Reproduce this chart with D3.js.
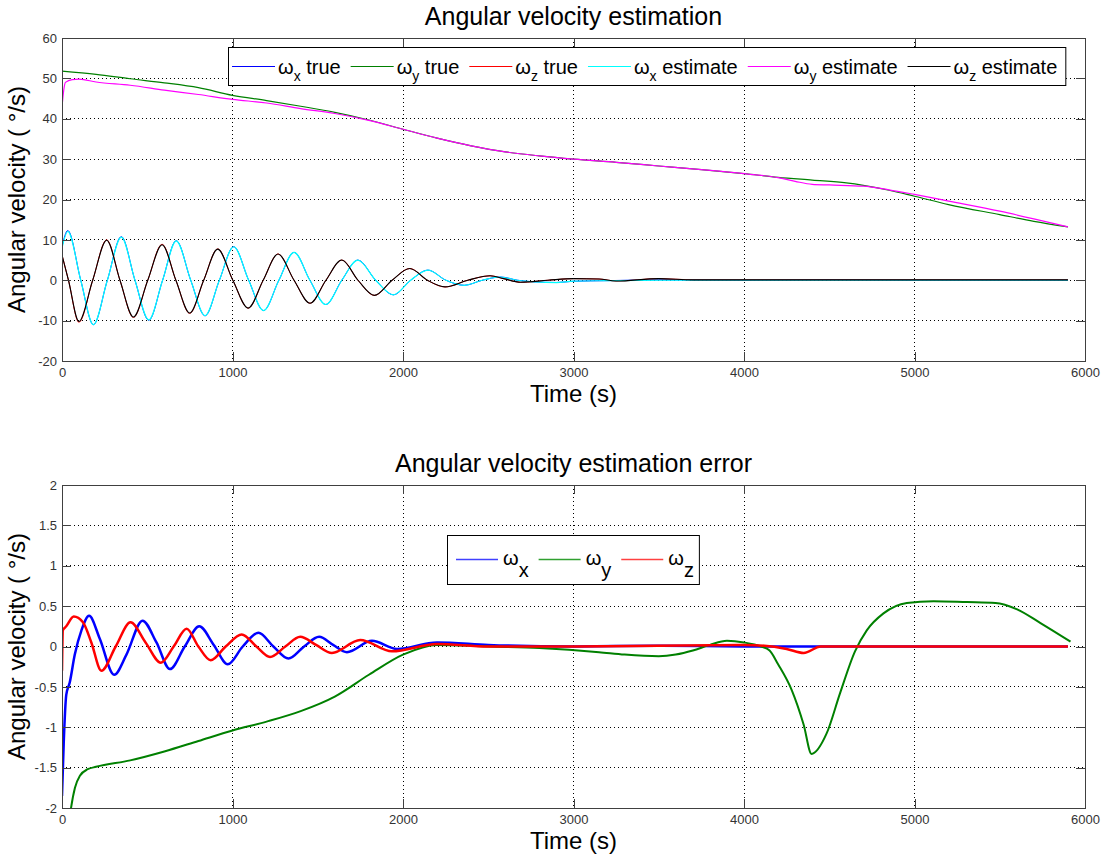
<!DOCTYPE html>
<html><head><meta charset="utf-8">
<script src="https://cdn.jsdelivr.net/npm/d3@7"></script>
<style>
body{margin:0;background:#fff;}
text{font-family:"Liberation Sans",Arial,Helvetica,sans-serif;}
</style>
</head><body>
<svg id="c" width="1107" height="857"></svg>
<script>
// ---------------- DATA ----------------
const xTicks = [0, 1000, 2000, 3000, 4000, 5000, 6000];
const yTicksTop = [-20, -10, 0, 10, 20, 30, 40, 50, 60];
const yTicksBot = [-2, -1.5, -1, -0.5, 0, 0.5, 1, 1.5, 2];

// top panel: angular velocity (deg/s) vs time (s), [t, value]
const wxTrue = [[0,8.3],[34,12.3],[110,0],[184,-11],[266,0],[348,10.8],[428,0],[509,-9.9],[590,0],[670,9.8],[755,0],[839,-8.8],[923,0],[1007,8.3],[1095,0],[1182,-7.5],[1272,0],[1361,6.9],[1454,0],[1547,-6],[1641,0],[1735,5],[1840,0],[1944,-3.6],[2045,0],[2146,2.5],[2252,0],[2359,-1.25],[2465,0],[2572,0.8],[2672,0],[2773,-0.4],[2900,-0.55],[3000,-0.25],[3200,-0.1],[3500,0.1],[4000,0],[4500,0.1],[5000,0],[5900,0]];
const wyTrue = [[0,51.8],[200,51],[400,49.9],[600,48.9],[800,47.7],[1000,45.8],[1200,44.5],[1400,43.1],[1600,41.6],[1800,39.7],[2000,37.4],[2200,35.2],[2400,33.3],[2600,31.8],[2800,30.8],[3000,30],[3250,29.2],[3500,28.3],[3750,27.4],[4000,26.4],[4200,25.5],[4400,24.8],[4600,24.1],[4700,23.5],[4850,22.3],[5000,20.8],[5200,18.75],[5500,16.25],[5700,14.6],[5900,13.2]];
const wzTrue = [[0,6.25],[38,0],[99,-10.4],[180,0],[262,10],[340,0],[419,-9.2],[503,0],[587,8.9],[668,0],[749,-8.2],[831,0],[913,7.75],[1002,0],[1092,-6.9],[1180,0],[1267,6.5],[1361,0],[1455,-5.7],[1548,0],[1641,5],[1736,0],[1832,-3.75],[1936,0],[2040,2.9],[2143,0],[2247,-1.65],[2380,0],[2511,1.1],[2590,0.4],[2690,-0.5],[2850,0],[3000,0.4],[3150,0.3],[3250,-0.2],[3500,0.4],[3700,0.1],[4000,0.1],[5900,0.1]];
const wxEst = [[0,8],[34,12.1],[110,0],[184,-11],[266,0],[348,10.7],[428,0],[509,-9.8],[590,0],[670,9.75],[755,0],[839,-8.75],[923,0],[1007,8.3],[1095,0],[1182,-7.5],[1272,0],[1361,6.9],[1454,0],[1547,-6],[1641,0],[1735,5],[1840,0],[1944,-3.6],[2045,0],[2146,2.5],[2252,0],[2359,-1.25],[2465,0],[2572,0.8],[2672,0],[2773,-0.4],[2900,-0.6],[3000,-0.2],[3200,-0.1],[3500,0],[4000,0],[5900,0]];
const wyEst = [[0,42.8],[10,47],[20,49],[60,49.7],[100,49.8],[200,49.1],[400,48.3],[600,47.1],[800,46],[1000,44.8],[1200,43.9],[1400,42.5],[1600,41.3],[1800,39.6],[2000,37.4],[2200,35.2],[2400,33.3],[2600,31.8],[2800,30.8],[3000,30],[3250,29.2],[3500,28.3],[3750,27.4],[4000,26.4],[4200,25.4],[4300,24.5],[4400,23.75],[4500,23.6],[4700,23.3],[4850,22.4],[5000,21.25],[5200,19.6],[5500,17.1],[5700,15.2],[5900,13.2]];
const wzEst = [[0,6.25],[38,0],[99,-10.2],[180,0],[262,9.9],[340,0],[419,-9.1],[503,0],[587,8.8],[668,0],[749,-8.1],[831,0],[913,7.7],[1002,0],[1092,-6.9],[1180,0],[1267,6.5],[1361,0],[1455,-5.7],[1548,0],[1641,5],[1736,0],[1832,-3.75],[1936,0],[2040,2.9],[2143,0],[2247,-1.65],[2380,0],[2511,1.1],[2590,0.4],[2690,-0.5],[2850,0],[3000,0.4],[3150,0.3],[3250,-0.2],[3500,0.4],[3700,0.1],[4000,0.1],[5900,0.1]];

// bottom panel: estimation error (deg/s)
const exErr = [[0,-1.85],[10,-1.2],[25,-0.6],[45,-0.45],[75,-0.1],[114,0.2],[159,0.38],[221,0.1],[306,-0.35],[378,-0.1],[472,0.32],[554,0.05],[633,-0.28],[720,0],[805,0.25],[890,0.02],[972,-0.22],[1060,0],[1152,0.17],[1240,0],[1328,-0.15],[1420,0],[1508,0.12],[1590,0.02],[1671,-0.07],[1818,0.07],[1965,-0.03],[2200,0.05],[2500,0.02],[3000,0],[3500,0.01],[4000,0],[4500,0],[5000,0],[5500,0],[5900,0]];
const eyErr = [[40,-2.2],[53,-2],[76,-1.75],[105,-1.6],[151,-1.52],[200,-1.49],[400,-1.41],[600,-1.3],[800,-1.17],[1000,-1.04],[1200,-0.93],[1400,-0.8],[1600,-0.62],[1800,-0.35],[2000,-0.1],[2200,0.02],[2500,0],[2800,-0.02],[3150,-0.07],[3300,-0.1],[3500,-0.12],[3600,-0.1],[3700,-0.05],[3800,0.02],[3900,0.07],[4000,0.05],[4100,0],[4150,-0.05],[4200,-0.22],[4280,-0.54],[4350,-0.97],[4396,-1.33],[4484,-1.08],[4563,-0.58],[4651,-0.06],[4720,0.2],[4818,0.41],[4955,0.54],[5112,0.56],[5308,0.55],[5475,0.54],[5602,0.46],[5739,0.29],[5915,0.06]];
const ezErr = [[0,-0.3],[5,0.2],[25,0.25],[69,0.37],[123,0.3],[172,0.05],[231,-0.3],[315,0],[402,0.3],[490,0.05],[580,-0.2],[655,0],[731,0.22],[800,0],[872,-0.17],[960,0],[1054,0.15],[1140,0],[1220,-0.13],[1310,0],[1397,0.12],[1490,0.02],[1583,-0.08],[1749,0.08],[1935,-0.06],[2200,0.03],[2500,0],[3000,0],[3500,0.01],[4000,0.02],[4250,-0.03],[4350,-0.08],[4450,0],[5000,0],[5900,0]];

const topLegend = [["x"," true"],["y"," true"],["z"," true"],["x"," estimate"],["y"," estimate"],["z"," estimate"]];
const botLegend = [["x",""],["y",""],["z",""]];

// ---------------- DRAW ----------------
const svg = d3.select("#c");
const fmt = d => String(d);

function panel(p) {
  const x = d3.scaleLinear().domain([0, 6000]).range([p.l, p.r]);
  const y = d3.scaleLinear().domain(p.yd).range([p.b, p.t]);
  const g = svg.append("g");
  g.append("rect").attr("x", p.l).attr("y", p.t).attr("width", p.r - p.l).attr("height", p.b - p.t).attr("fill", "#fff");

  // grid
  g.append("g").selectAll("line").data(xTicks.slice(1, -1)).join("line")
    .attr("x1", d => x(d)).attr("x2", d => x(d)).attr("y1", p.t).attr("y2", p.b)
    .attr("stroke", "#000").attr("stroke-width", 1).attr("stroke-dasharray", "1,3").attr("shape-rendering", "crispEdges");
  g.append("g").selectAll("line").data(p.yt.slice(1, -1)).join("line")
    .attr("y1", d => y(d)).attr("y2", d => y(d)).attr("x1", p.l).attr("x2", p.r)
    .attr("stroke", "#000").attr("stroke-width", 1).attr("stroke-dasharray", "1,3").attr("shape-rendering", "crispEdges");

  // clip
  const cid = "clip" + p.id;
  svg.append("defs").append("clipPath").attr("id", cid).append("rect")
    .attr("x", p.l).attr("y", p.t).attr("width", p.r - p.l).attr("height", p.b - p.t);
  const line = d3.line().x(d => x(d[0])).y(d => y(d[1])).curve(d3.curveMonotoneX);
  const lg = g.append("g").attr("clip-path", `url(#${cid})`);
  p.series.forEach(s => {
    lg.append("path").datum(s.data).attr("d", line).attr("fill", "none")
      .attr("stroke", s.color).attr("stroke-width", s.w).attr("stroke-linejoin", "round");
  });

  // axes
  const ax = g.append("g");
  ax.append("g").attr("transform", `translate(0,${p.b})`)
    .call(d3.axisBottom(x).tickValues(xTicks).tickSize(-9).tickPadding(7).tickFormat(fmt));
  ax.append("g").attr("transform", `translate(0,${p.t})`)
    .call(d3.axisTop(x).tickValues(xTicks).tickSize(-9).tickFormat(""));
  ax.append("g").attr("transform", `translate(${p.l},0)`)
    .call(d3.axisLeft(y).tickValues(p.yt).tickSize(-9).tickPadding(5).tickFormat(fmt));
  ax.append("g").attr("transform", `translate(${p.r},0)`)
    .call(d3.axisRight(y).tickValues(p.yt).tickSize(-9).tickFormat(""));
  ax.selectAll(".domain").remove();
  ax.selectAll(".tick line").attr("stroke", "#404040").attr("shape-rendering", "crispEdges");
  ax.selectAll(".tick text").attr("font-size", 13).attr("fill", "#333")
    .attr("font-family", '"Liberation Sans",Arial,sans-serif');
  g.append("rect").attr("x", p.l).attr("y", p.t).attr("width", p.r - p.l).attr("height", p.b - p.t)
    .attr("fill", "none").attr("stroke", "#404040").attr("stroke-width", 1).attr("shape-rendering", "crispEdges");

  // titles & labels
  g.append("text").attr("x", (p.l + p.r) / 2).attr("y", p.t - 13).attr("text-anchor", "middle")
    .attr("font-size", 25).text(p.title);
  g.append("text").attr("x", (p.l + p.r) / 2).attr("y", p.b + 41).attr("text-anchor", "middle")
    .attr("font-size", 24).text("Time (s)");
  g.append("text").attr("transform", `translate(25,${(p.t + p.b) / 2}) rotate(-90)`).attr("text-anchor", "middle")
    .attr("font-size", 24).text("Angular velocity ( °/s)");

  // legend
  const L = p.legend;
  const lgd = g.append("g");
  const box = lgd.append("rect").attr("x", L.x + 0.5).attr("y", L.y + 0.5).attr("height", L.h)
    .attr("fill", "#fff").attr("stroke", "#000").attr("stroke-width", 1);
  let cx = L.x + L.padL;
  const ly = Math.floor(L.y + L.h / 2) + 0.5;
  L.items.forEach((it, i) => {
    lgd.append("line").attr("x1", cx).attr("x2", cx + L.lineLen).attr("y1", ly).attr("y2", ly)
      .attr("stroke", L.colors[i]).attr("stroke-width", L.lw);
    cx += L.lineLen + L.gap1;
    const t = lgd.append("text").attr("x", cx).attr("y", ly + L.base).attr("font-size", L.fs);
    t.append("tspan").text("ω");
    t.append("tspan").attr("dy", L.subDy).attr("font-size", L.subFs).text(it[0]);
    if (it[1]) t.append("tspan").attr("dy", -L.subDy).text(it[1]);
    cx += t.node().getComputedTextLength() + L.gap2;
  });
  box.attr("width", cx - L.gap2 + L.padR - L.x);
}

panel({
  id: "top", l: 62, r: 1085, t: 38, b: 361, yd: [-20, 60], yt: yTicksTop,
  title: "Angular velocity estimation",
  series: [
    {data: wxTrue, color: "#0000ff", w: 1},
    {data: wyTrue, color: "#008000", w: 1.2},
    {data: wzTrue, color: "#ff0000", w: 1},
    {data: wxEst, color: "#00ffff", w: 1.2},
    {data: wyEst, color: "#ff00ff", w: 1.2},
    {data: wzEst, color: "#000000", w: 1.1}
  ],
  legend: {x: 228, y: 47, h: 38, padL: 4, padR: 8, lineLen: 43, gap1: 3, gap2: 10, fs: 20, subFs: 14, subDy: 7, base: 7, lw: 1,
    items: topLegend, colors: ["#0000ff", "#008000", "#ff0000", "#00ffff", "#ff00ff", "#000000"]}
});

panel({
  id: "bot", l: 62, r: 1085, t: 485, b: 808, yd: [-2, 2], yt: yTicksBot,
  title: "Angular velocity estimation error",
  series: [
    {data: exErr, color: "#0000ff", w: 2.5},
    {data: eyErr, color: "#008000", w: 2},
    {data: ezErr, color: "#ff0000", w: 2.5}
  ],
  legend: {x: 447, y: 535, h: 49, padL: 9, padR: 5, lineLen: 42, gap1: 5, gap2: 10, fs: 20, subFs: 20, subDy: 12, base: 5, lw: 1.5,
    items: botLegend, colors: ["#4040ff", "#30a030", "#ff4040"]}
});
</script>
</body></html>
